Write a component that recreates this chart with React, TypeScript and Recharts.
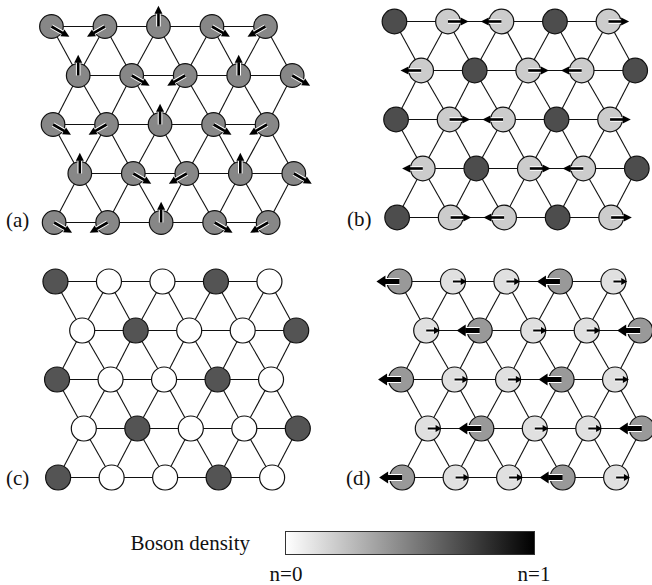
import { ScatterChart, Scatter, XAxis, YAxis, ReferenceLine } from "recharts";

// lattice geometry (rows are shifted by half a site every other row)
const ROW_SHIFT = [0, 0.5, 0.03, 0.53, 0.05];
const N_COLS = 5;

// (a) uniform density, three-sublattice 120° phase pattern
const A_DENSITY = [
  [0.47, 0.47, 0.47, 0.47, 0.47],
  [0.47, 0.47, 0.47, 0.47, 0.47],
  [0.47, 0.47, 0.47, 0.47, 0.47],
  [0.47, 0.47, 0.47, 0.47, 0.47],
  [0.47, 0.47, 0.47, 0.47, 0.47],
];
const A_PHASE = [
  [-30, 210, 90, -30, 210],
  [90, -30, 210, 90, -30],
  [-30, 210, 90, -30, 210],
  [90, -30, 210, 90, -30],
  [-30, 210, 90, -30, 210],
];
const A_AMP = [0.9, 0.9, 0.9, 0.9, 0.9];

// (b) supersolid: dark sites empty of phase, light sites carry arrows
const B_DENSITY = [
  [0.7, 0.2, 0.2, 0.7, 0.2],
  [0.2, 0.7, 0.2, 0.2, 0.7],
  [0.7, 0.2, 0.2, 0.7, 0.2],
  [0.2, 0.7, 0.2, 0.2, 0.7],
  [0.7, 0.2, 0.2, 0.7, 0.2],
];
const B_PHASE = [
  [null, 0, 180, null, 0],
  [180, null, 0, 180, null],
  [null, 0, 180, null, 0],
  [180, null, 0, 180, null],
  [null, 0, 180, null, 0],
];
const B_AMP = [0.9, 0.9, 0.9, 0.9, 0.9];

// (c) solid
const C_DENSITY = [
  [0.67, 0, 0, 0.67, 0],
  [0, 0.67, 0, 0, 0.67],
  [0.67, 0, 0, 0.67, 0],
  [0, 0.67, 0, 0, 0.67],
  [0.67, 0, 0, 0.67, 0],
];

// (d) supersolid with arrows on every site
const D_DENSITY = [
  [0.4, 0.12, 0.12, 0.4, 0.12],
  [0.12, 0.4, 0.12, 0.12, 0.4],
  [0.4, 0.12, 0.12, 0.4, 0.12],
  [0.12, 0.4, 0.12, 0.12, 0.4],
  [0.4, 0.12, 0.12, 0.4, 0.12],
];
const D_PHASE = [
  [180, 0, 0, 180, 0],
  [0, 180, 0, 0, 180],
  [180, 0, 0, 180, 0],
  [0, 180, 0, 0, 180],
  [180, 0, 0, 180, 0],
];
const D_AMP_HIGH = 1;
const D_AMP_LOW = 0.6;

const LEGEND_TITLE = "Boson density";
const LEGEND_MIN = "n=0";
const LEGEND_MAX = "n=1";

const FONT = '"Liberation Serif", "Times New Roman", serif';
const X_DOMAIN: [number, number] = [-0.7, 5.3];
const Y_DOMAIN: [number, number] = [-0.5, 4.5];
const CHART_W = 321; // 53.5 px per site
const CHART_H = 245; // 49 px per row

type Site = { x: number; y: number; n: number; angle: number | null; amp: number };

function buildSites(
  density: number[][],
  phase: (number | null)[][] | null,
  amp: (r: number, c: number) => number
): Site[] {
  const sites: Site[] = [];
  density.forEach((row, r) =>
    row.forEach((n, c) => {
      sites.push({
        x: c + ROW_SHIFT[r],
        y: r,
        n,
        angle: phase ? phase[r][c] : null,
        amp: amp(r, c),
      });
    })
  );
  return sites;
}

function buildBonds() {
  const pos = (r: number, c: number) => ({ x: c + ROW_SHIFT[r], y: r });
  const bonds: { x: number; y: number }[][] = [];
  for (let r = 0; r < ROW_SHIFT.length; r++) {
    for (let c = 0; c < N_COLS - 1; c++) bonds.push([pos(r, c), pos(r, c + 1)]);
  }
  for (let r = 1; r < ROW_SHIFT.length; r += 2) {
    for (let c = 0; c < N_COLS; c++) {
      for (const rr of [r - 1, r + 1]) {
        if (rr >= ROW_SHIFT.length) continue;
        bonds.push([pos(r, c), pos(rr, c)]);
        if (c + 1 < N_COLS) bonds.push([pos(r, c), pos(rr, c + 1)]);
      }
    }
  }
  return bonds;
}

const BONDS = buildBonds();

function arrowStyle(amp: number) {
  if (amp >= 1) return { shaft: 5, headL: 9, headW: 12 };
  if (amp >= 0.8) return { shaft: 2.6, headL: 8, headW: 8 };
  return { shaft: 2, headL: 6, headW: 7 };
}

function makeShape(radius: number) {
  return (props: any) => {
    const { cx, cy } = props;
    const p: Site = props.payload ?? props;
    const g = Math.round(255 * (1 - p.n));
    const fill = `rgb(${g},${g},${g})`;
    let arrow = null;
    if (p.angle !== null && p.angle !== undefined) {
      const st = arrowStyle(p.amp);
      const len = 23 * p.amp;
      const rad = (p.angle * Math.PI) / 180;
      const dx = Math.cos(rad);
      const dy = -Math.sin(rad);
      const tx = cx + len * dx;
      const ty = cy + len * dy;
      const bx = tx - st.headL * dx;
      const by = ty - st.headL * dy;
      const px = -dy * (st.headW / 2);
      const py = dx * (st.headW / 2);
      arrow = (
        <g>
          <line x1={cx} y1={cy} x2={bx} y2={by} stroke="#fff" strokeWidth={st.shaft + 2} />
          <line x1={cx} y1={cy} x2={bx + 0.5 * dx} y2={by + 0.5 * dy} stroke="#000" strokeWidth={st.shaft} />
          <polygon points={`${tx},${ty} ${bx + px},${by + py} ${bx - px},${by - py}`} fill="#000" />
        </g>
      );
    }
    return (
      <g>
        <circle cx={cx} cy={cy} r={radius} fill={fill} stroke="#111" strokeWidth={1.2} />
        {arrow}
      </g>
    );
  };
}

function LatticePanel({ left, top, sites, radius }: { left: number; top: number; sites: Site[]; radius: number }) {
  return (
    <div style={{ position: "absolute", left, top }}>
      <ScatterChart width={CHART_W} height={CHART_H} margin={{ top: 0, right: 0, bottom: 0, left: 0 }}>
        <XAxis type="number" dataKey="x" domain={X_DOMAIN} allowDataOverflow hide />
        <YAxis type="number" dataKey="y" domain={Y_DOMAIN} allowDataOverflow reversed hide />
        {BONDS.map((b, i) => (
          <ReferenceLine key={i} segment={b} stroke="#111" strokeWidth={1.1} zIndex={-1} />
        ))}
        <Scatter data={sites} shape={makeShape(radius)} isAnimationActive={false} />
      </ScatterChart>
    </div>
  );
}

const labelStyle: React.CSSProperties = {
  position: "absolute",
  fontFamily: FONT,
  fontSize: 21,
  lineHeight: "22px",
  color: "#111",
  whiteSpace: "nowrap",
};

export default function App() {
  const sitesA = buildSites(A_DENSITY, A_PHASE, (r) => A_AMP[r]);
  const sitesB = buildSites(B_DENSITY, B_PHASE, (r) => B_AMP[r]);
  const sitesC = buildSites(C_DENSITY, null, () => 0);
  const sitesD = buildSites(D_DENSITY, D_PHASE, (r, c) =>
    D_PHASE[r][c] === 180 ? D_AMP_HIGH : D_AMP_LOW
  );

  return (
    <div style={{ position: "fixed", left: 0, top: 0, width: 652, height: 585, background: "#fff", overflow: "hidden" }}>
      <LatticePanel left={14} top={2} sites={sitesA} radius={11.8} />
      <LatticePanel left={357} top={-3} sites={sitesB} radius={12.3} />
      <LatticePanel left={17.5} top={257} sites={sitesC} radius={12.5} />
      <LatticePanel left={362} top={257} sites={sitesD} radius={12.5} />

      <div style={{ ...labelStyle, left: 6, top: 209 }}>(a)</div>
      <div style={{ ...labelStyle, left: 347, top: 208 }}>(b)</div>
      <div style={{ ...labelStyle, left: 6, top: 467 }}>(c)</div>
      <div style={{ ...labelStyle, left: 346, top: 467 }}>(d)</div>

      <div style={{ ...labelStyle, right: 652 - 250, top: 532 }}>{LEGEND_TITLE}</div>
      <div
        style={{
          position: "absolute",
          left: 285,
          top: 531,
          width: 250,
          height: 24,
          boxSizing: "border-box",
          border: "1px solid #333",
          background: "linear-gradient(to right, #ffffff, #000000)",
        }}
      />
      <div style={{ ...labelStyle, left: 286, top: 563, transform: "translateX(-50%)" }}>{LEGEND_MIN}</div>
      <div style={{ ...labelStyle, left: 534, top: 563, transform: "translateX(-50%)" }}>{LEGEND_MAX}</div>
    </div>
  );
}
